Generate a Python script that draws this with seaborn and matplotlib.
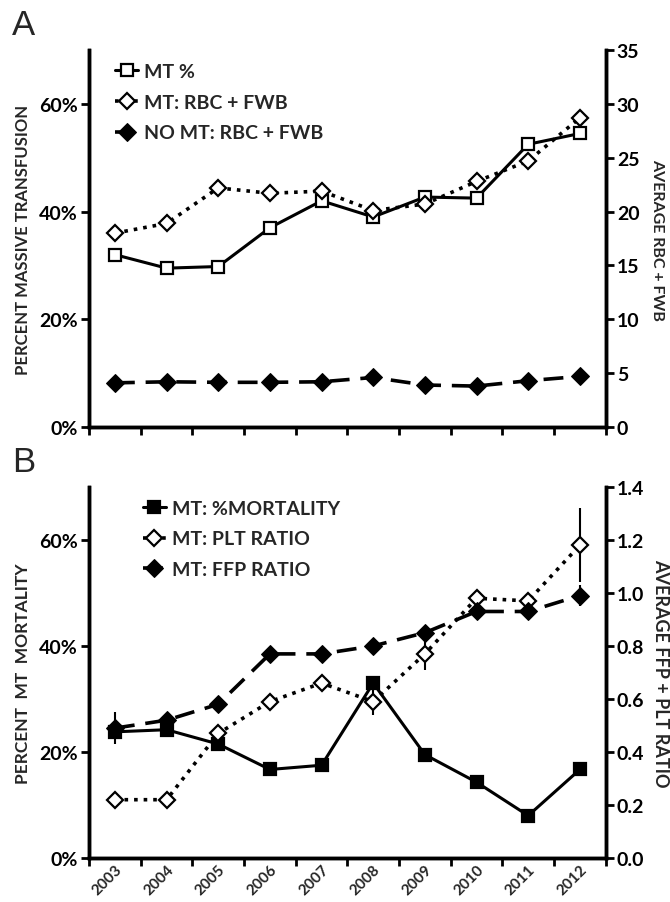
import numpy as np
import pandas as pd
import matplotlib
matplotlib.use("Agg")
import matplotlib.pyplot as plt
import seaborn as sns
from matplotlib.ticker import FuncFormatter

# data
years = ["2003", "2004", "2005", "2006", "2007", "2008", "2009", "2010", "2011", "2012"]

# panel A
mt_pct = [32.0, 29.5, 29.8, 37.0, 42.0, 39.0, 42.7, 42.5, 52.5, 54.5]        # left axis, %
mt_rbc_fwb = [18.0, 18.9, 22.2, 21.7, 21.9, 20.1, 20.7, 22.8, 24.7, 28.7]    # right axis
no_mt_rbc_fwb = [4.1, 4.2, 4.15, 4.15, 4.2, 4.6, 3.9, 3.8, 4.3, 4.7]         # right axis

# panel B
mt_mortality = [23.8, 24.2, 21.5, 16.7, 17.5, 33.0, 19.5, 14.3, 8.0, 16.7]   # left axis, %
plt_ratio = [0.22, 0.22, 0.47, 0.59, 0.66, 0.59, 0.77, 0.98, 0.97, 1.18]     # right axis
plt_err = [0.0, 0.0, 0.0, 0.0, 0.0, 0.05, 0.06, 0.0, 0.0, 0.14]
ffp_ratio = [0.49, 0.52, 0.58, 0.77, 0.77, 0.80, 0.85, 0.93, 0.93, 0.99]     # right axis
ffp_err = [0.06, 0.0, 0.0, 0.0, 0.0, 0.0, 0.0, 0.0, 0.0, 0.04]

x = np.arange(len(years))
dfA = pd.DataFrame({"x": x, "mt": mt_pct, "rbc": mt_rbc_fwb, "normc": no_mt_rbc_fwb})
dfB = pd.DataFrame({"x": x, "mort": mt_mortality, "plt": plt_ratio, "ffp": ffp_ratio})

sns.set_theme(style="white")
plt.rcParams['font.family'] = ['Lato', 'DejaVu Sans']
plt.rcParams['font.weight'] = 'bold'

fig = plt.figure(figsize=(6.7, 9.03), dpi=100)
axA = fig.add_axes([0.133, 0.526, 0.771, 0.4175])
axB = fig.add_axes([0.133, 0.0487, 0.771, 0.411])

dash = (0, (5.5, 3))
solid_kw = dict(color="black", linewidth=2.2, markersize=9, markeredgecolor="black", markeredgewidth=1.6)


def style_axes(ax, ax2, left_lab, right_lab, rmax, rticks, rfmt, lsize, rsize):
    ax.set_xlim(-0.5, 9.5)
    ax.set_ylim(0, 70)
    ax2.set_ylim(0, rmax)
    ax.set_yticks([0, 20, 40, 60])
    ax.yaxis.set_major_formatter(FuncFormatter(lambda v, p: f"{v:.0f}%"))
    ax2.set_yticks(rticks)
    ax2.yaxis.set_major_formatter(FuncFormatter(rfmt))
    ax.set_xticks(np.arange(-0.5, 10, 1))
    ax.set_xticklabels([])
    for a in (ax, ax2):
        a.spines["top"].set_visible(False)
        for s in ("left", "right", "bottom"):
            a.spines[s].set_linewidth(2.5)
            a.spines[s].set_color("black")
        a.tick_params(direction="out", length=6, width=2, colors="black", labelsize=14, pad=2)
    ax.tick_params(axis="both", left=True, bottom=True)
    ax2.tick_params(axis="y", right=True)
    ax.set_xlabel("")
    ax.set_ylabel(left_lab, fontsize=lsize, fontweight="bold", labelpad=6)
    ax2.set_ylabel(right_lab, fontsize=rsize, fontweight="bold", rotation=-90, labelpad=18)


leg_kw = dict(loc="upper left", frameon=False, handlelength=1.2, handletextpad=0.3,
              labelspacing=0.7, borderpad=0, borderaxespad=0, prop={"size": 14, "weight": "bold"})

# ---- panel A ----
axA2 = axA.twinx()
sns.lineplot(data=dfA, x="x", y="mt", ax=axA, marker="s", markerfacecolor="white",
             linestyle="-", label="MT %", legend=False, zorder=3, **solid_kw)
sns.lineplot(data=dfA, x="x", y="rbc", ax=axA2, marker="D", markerfacecolor="white",
             linestyle=":", label="MT: RBC + FWB", legend=False, color="black", linewidth=2.6,
             markersize=8.5, markeredgecolor="black", markeredgewidth=1.6)
sns.lineplot(data=dfA, x="x", y="normc", ax=axA2, marker="D", markerfacecolor="black",
             linestyle=dash, label="NO MT: RBC + FWB", legend=False, color="black", linewidth=2.6,
             markersize=9, markeredgecolor="black")
style_axes(axA, axA2, "PERCENT MASSIVE TRANSFUSION", "AVERAGE RBC + FWB", 35,
           [0, 5, 10, 15, 20, 25, 30, 35], lambda v, p: f"{v:.0f}", 12, 11.5)
hA = axA.get_legend_handles_labels()
hA2 = axA2.get_legend_handles_labels()
axA2.legend(hA[0] + hA2[0], hA[1] + hA2[1], bbox_to_anchor=(0.05, 0.965), **leg_kw)
fig.text(0.018, 0.972, "A", fontsize=25, family="Liberation Sans", fontweight="normal", va="center")

# ---- panel B ----
axB2 = axB.twinx()
axB2.errorbar(dfB["x"], dfB["plt"], yerr=plt_err, fmt="none", ecolor="black", elinewidth=1.5, zorder=1)
axB2.errorbar(dfB["x"], dfB["ffp"], yerr=ffp_err, fmt="none", ecolor="black", elinewidth=1.5, zorder=1)
sns.lineplot(data=dfB, x="x", y="mort", ax=axB, marker="s", markerfacecolor="black",
             linestyle="-", label="MT: %MORTALITY", legend=False, zorder=3, **solid_kw)
sns.lineplot(data=dfB, x="x", y="plt", ax=axB2, marker="D", markerfacecolor="white",
             linestyle=":", label="MT: PLT RATIO", legend=False, color="black", linewidth=2.6,
             markersize=8.5, markeredgecolor="black", markeredgewidth=1.6, zorder=3)
sns.lineplot(data=dfB, x="x", y="ffp", ax=axB2, marker="D", markerfacecolor="black",
             linestyle=dash, label="MT: FFP RATIO", legend=False, color="black", linewidth=2.6,
             markersize=9, markeredgecolor="black", zorder=3)
style_axes(axB, axB2, "PERCENT  MT  MORTALITY", "AVERAGE FFP + PLT RATIO", 1.4,
           [0, 0.2, 0.4, 0.6, 0.8, 1.0, 1.2, 1.4], lambda v, p: f"{v:.1f}", 12.5, 13)
axB.set_xticks(x, minor=True)
axB.set_xticklabels(years, minor=True, rotation=45, ha="right", va="top", rotation_mode="anchor",
                    fontsize=11, fontweight="bold")
axB.tick_params(axis="x", which="minor", length=0, pad=3)
hB = axB.get_legend_handles_labels()
hB2 = axB2.get_legend_handles_labels()
axB2.legend(hB[0] + hB2[0], hB[1] + hB2[1], bbox_to_anchor=(0.104, 0.965), **leg_kw)
fig.text(0.018, 0.488, "B", fontsize=25, family="Liberation Sans", fontweight="normal", va="center")

fig.savefig("out.png", dpi=100)
